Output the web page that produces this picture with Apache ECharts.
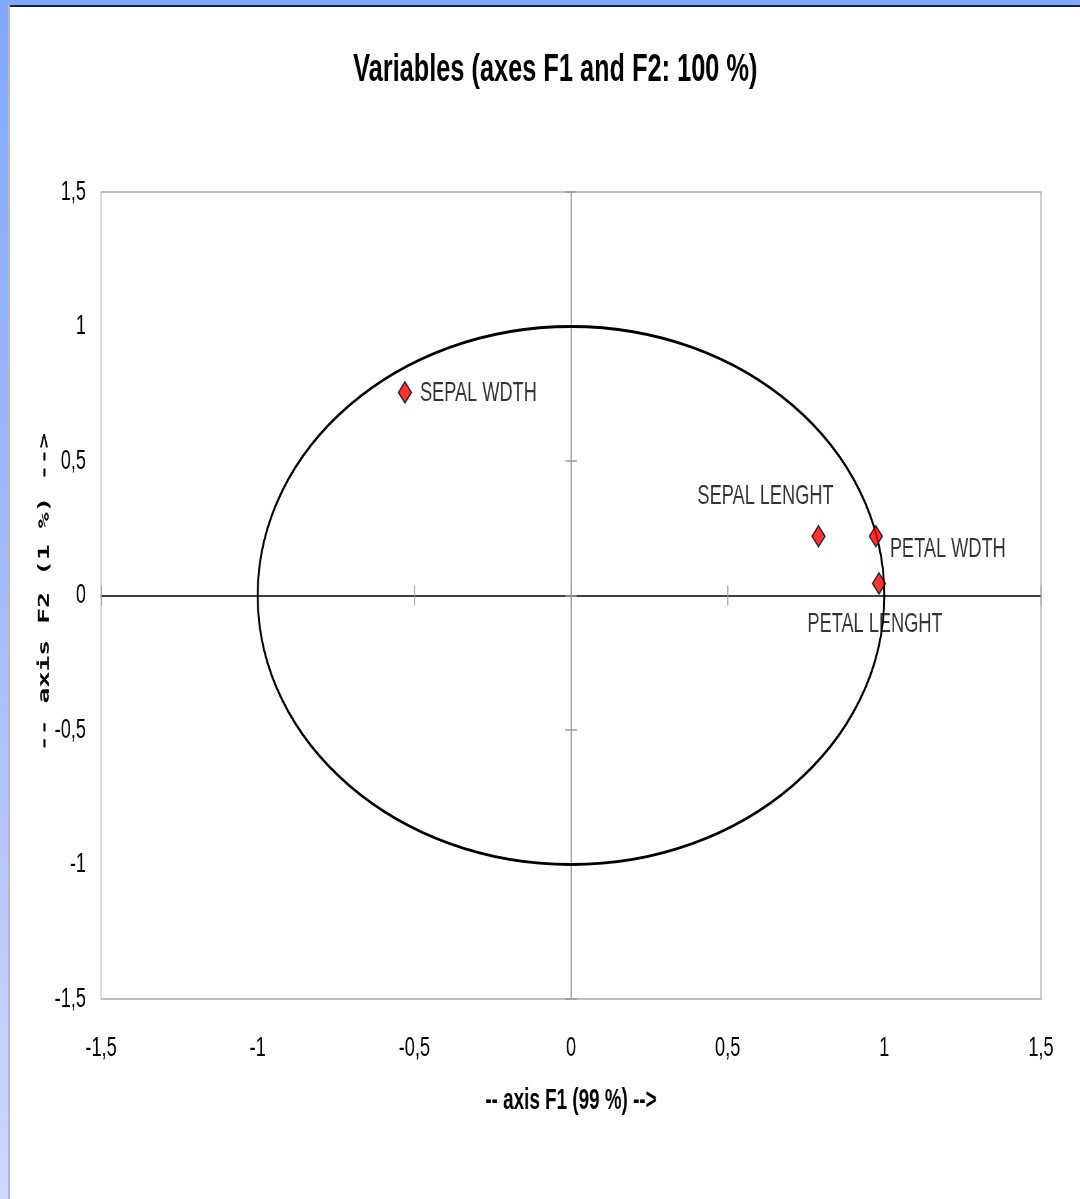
<!DOCTYPE html>
<html>
<head>
<meta charset="utf-8">
<script src="https://cdn.jsdelivr.net/npm/echarts@6/dist/echarts.min.js"></script>
<style>
  html, body { margin: 0; padding: 0; width: 1080px; height: 1199px; overflow: hidden; background: #ffffff; }
  #frameTop { position: absolute; left: 0; top: 0; width: 1080px; height: 5px; background: #80a8ff; }
  #frameTopEdge { position: absolute; left: 9px; top: 5px; width: 1071px; height: 2px; background: #1c2238; }
  #frameLeft { position: absolute; left: 0; top: 0; width: 8px; height: 1199px;
               background: linear-gradient(to bottom, #80a8ff 0%, #a9bdff 55%, #cdd8ff 100%); }
  #frameLeftEdge { position: absolute; left: 8px; top: 5px; width: 2px; height: 1194px; background: #b4b8c4; }
  /* the chart is laid out wide and compressed horizontally, giving the condensed lettering */
  #chart { position: absolute; left: 0; top: 0; width: 1662px; height: 1199px;
           transform: scaleX(0.6498); transform-origin: 0 0; }
</style>
</head>
<body>
<div id="frameTop"></div>
<div id="frameLeft"></div>
<div id="frameTopEdge"></div>
<div id="frameLeftEdge"></div>
<div id="chart"></div>
<script>
// Variable coordinates on the first two factorial axes
const varNames = ['SEPAL WDTH', 'SEPAL LENGHT', 'PETAL WDTH', 'PETAL LENGHT'];
const f1Values = [-0.53, 0.79, 0.973, 0.983];
const f2Values = [0.755, 0.22, 0.22, 0.045];

// Correlation circle: centre (F1, F2) and radius
const circleCenter = [0, 0];
const circleRadius = 1;

// Axis range and tick step
const axisMin = -1.5;
const axisMax = 1.5;
const axisStep = 0.5;

const titleText = 'Variables (axes F1 and F2: 100 %)';
const xAxisTitle = '-- axis F1 (99 %) -->';
const yAxisTitle = '-- axis F2 (1 %) -->';

// Horizontal compression applied to the chart container (see CSS)
const SQUEEZE = 0.6498;
const px = v => v / SQUEEZE;   // on-screen horizontal pixels -> layout pixels

// Label placement around each marker (on-screen offset from the marker centre)
const labelPlacement = {
  'SEPAL WDTH':   { align: 'left',   offset: [15, 1] },
  'SEPAL LENGHT': { align: 'center', offset: [-53, -40] },
  'PETAL WDTH':   { align: 'left',   offset: [14, 13] },
  'PETAL LENGHT': { align: 'center', offset: [-4, 41] }
};

const font = '"Liberation Sans", Arial, sans-serif';
const commaFormat = v => String(v).replace('.', ',');

const points = varNames.map((name, i) => {
  const p = labelPlacement[name];
  return {
    name: name,
    value: [f1Values[i], f2Values[i]],
    label: { align: p.align, offset: [px(p.offset[0]), p.offset[1]] }
  };
});

function valueAxisBase() {
  return { type: 'value', min: axisMin, max: axisMax, interval: axisStep, splitLine: { show: false } };
}

const tickStyle = { color: '#9a9a9a', width: 1.5 };

const chart = echarts.init(document.getElementById('chart'), null, { renderer: 'canvas' });

chart.setOption({
  backgroundColor: 'transparent',
  animation: false,
  title: {
    text: titleText,
    left: px(552),
    top: 46,
    textAlign: 'center',
    textStyle: { fontFamily: font, fontWeight: 'bold', fontSize: 39, color: '#000' }
  },
  grid: {
    left: px(101), top: 192, right: px(39), bottom: 200,
    show: true, borderColor: '#a9a9a9', borderWidth: 1.5, backgroundColor: 'transparent'
  },
  xAxis: [
    Object.assign(valueAxisBase(), {
      position: 'bottom',
      axisLine: { show: false, onZero: false },
      axisTick: { show: false },
      axisLabel: { formatter: commaFormat, margin: 35, fontFamily: font, fontSize: 28, color: '#000' },
      name: xAxisTitle,
      nameLocation: 'middle',
      nameGap: 87,
      nameTextStyle: { fontFamily: font, fontWeight: 'bold', fontSize: 29, color: '#000' }
    }),
    Object.assign(valueAxisBase(), {
      position: 'bottom',
      axisLine: { show: true, onZero: true, onZeroAxisIndex: 0, lineStyle: { color: '#000', width: 1.6 } },
      axisTick: { show: true, inside: true, length: 10, lineStyle: tickStyle },
      axisLabel: { show: false }
    }),
    Object.assign(valueAxisBase(), {
      position: 'bottom',
      axisLine: { show: false, onZero: true, onZeroAxisIndex: 0 },
      axisTick: { show: true, inside: false, length: 10, lineStyle: tickStyle },
      axisLabel: { show: false }
    })
  ],
  yAxis: [
    Object.assign(valueAxisBase(), {
      position: 'left',
      axisLine: { show: false, onZero: false },
      axisTick: { show: false },
      axisLabel: { formatter: commaFormat, margin: px(15), fontFamily: font, fontSize: 28, color: '#000' }
    }),
    Object.assign(valueAxisBase(), {
      position: 'left',
      axisLine: { show: true, onZero: true, onZeroAxisIndex: 0, lineStyle: { color: '#8c8c8c', width: 1.5 } },
      axisTick: { show: true, inside: true, length: 9, lineStyle: tickStyle },
      axisLabel: { show: false }
    }),
    Object.assign(valueAxisBase(), {
      position: 'left',
      axisLine: { show: false, onZero: true, onZeroAxisIndex: 0 },
      axisTick: { show: true, inside: false, length: 9, lineStyle: tickStyle },
      axisLabel: { show: false }
    })
  ],
  graphic: [
    {
      type: 'text',
      x: px(45),
      y: 592,
      rotation: Math.PI / 2,
      scaleX: 1.15,
      style: {
        text: yAxisTitle,
        fill: '#000',
        font: 'bold 23px "DejaVu Sans Mono", monospace',
        align: 'center',
        verticalAlign: 'middle'
      }
    }
  ],
  series: [
    {
      type: 'custom',
      xAxisIndex: 0,
      yAxisIndex: 0,
      silent: true,
      clip: false,
      z: 3,
      data: [[circleCenter[0], circleCenter[1], circleRadius]],
      encode: { x: 0, y: 1 },
      renderItem: function (params, api) {
        const c = api.coord([api.value(0), api.value(1)]);
        const r = api.size([api.value(2), api.value(2)]);
        return {
          type: 'ellipse',
          shape: { cx: c[0], cy: c[1], rx: r[0], ry: r[1] },
          style: { fill: 'none', stroke: '#000', lineWidth: 3 }
        };
      }
    },
    {
      type: 'scatter',
      xAxisIndex: 0,
      yAxisIndex: 0,
      z: 5,
      symbol: 'diamond',
      symbolSize: [px(13), 21],
      itemStyle: { color: '#ff0000', borderColor: '#000', borderWidth: 1.8 },
      label: {
        show: true,
        position: 'inside',
        formatter: '{b}',
        fontFamily: font,
        fontSize: 28,
        color: '#000',
        verticalAlign: 'middle'
      },
      data: points
    }
  ]
});
</script>
</body>
</html>
